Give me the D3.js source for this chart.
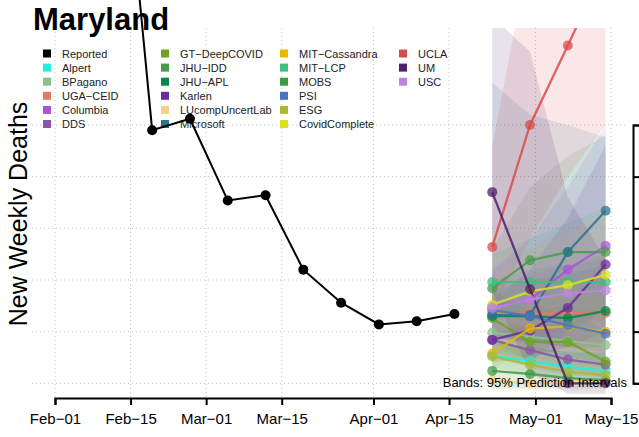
<!DOCTYPE html>
<html><head><meta charset="utf-8">
<script src="https://cdn.jsdelivr.net/npm/d3@7"></script>
<style>body{margin:0;background:#fff}svg{display:block}text{font-family:"Liberation Sans",Arial,Helvetica,sans-serif}</style>
</head><body><svg id="c" width="639" height="437"></svg>
<script>
const reportedDates = ["2021-02-12","2021-02-19","2021-02-26","2021-03-05","2021-03-12","2021-03-19","2021-03-26","2021-04-02","2021-04-09","2021-04-16"];
const reportedValues = [627, 245, 256, 177, 182, 110, 78, 57, 60, 67];
const forecastDates = ["2021-04-23","2021-04-30","2021-05-07","2021-05-14"];
const models = ["Alpert","BPagano","UGA\u2212CEID","Columbia","DDS","GT\u2212DeepCOVID","JHU\u2212IDD","JHU\u2212APL","Karlen","LUcompUncertLab","Microsoft","MIT\u2212Cassandra","MIT\u2212LCP","MOBS","PSI","ESG","CovidComplete","UCLA","UM","USC"];
const modelColors = ["#1EEFDF","#8FBF8F","#E07B5F","#A855D8","#8B55A8","#6BA51F","#4A9A4E","#00874A","#6A2E9A","#F5D08A","#2A7390","#E8B800","#3DBE7A","#3E9A4A","#4A76BF","#AAB834","#DDE020","#D94B4B","#4E1F6A","#C084E0"];
const forecastMedian = [
  [27, 21, 16, 12],
  [49, 45, 41, 37],
  [68, 68, 68, 68],
  [74, 81, 110, 133],
  [42, 32, 23, 18],
  [63, 40, 40, 21],
  [92, 119, 127, 127],
  [65, 65, 63, 70],
  [42, 51, 73, 115],
  [3, 0, 2, 2],
  [66, 66, 127, 167],
  [29, 53, 55, 50],
  [98, 98, 98, 98],
  [12, 9, 5, 3],
  [71, 65, 56, 48],
  [26, 18, 11, 8],
  [76, 89, 95, 105],
  [132, 250, 327, 405],
  [185, 91, 0, 0],
  [73, 81, 87, 90]
];
const forecastLower = [
  [15, 10, 5, 3],
  [30, 25, 20, 15],
  [45, 40, 35, 30],
  [45, 40, 55, 60],
  [25, 15, 8, 5],
  [40, 20, 15, 5],
  [60, 70, 65, 60],
  [45, 40, 35, 35],
  [20, 25, 35, 50],
  [-8, -8, -8, -8],
  [30, 20, 50, 70],
  [15, 30, 30, 25],
  [70, 60, 50, 45],
  [-5, -5, -5, -5],
  [45, 35, 25, 20],
  [15, 8, 3, 0],
  [50, 55, 55, 60],
  [70, 140, 200, 250],
  [90, 10, -10, -10],
  [45, 45, 45, 45]
];
const forecastUpper = [
  [40, 35, 30, 28],
  [70, 70, 70, 70],
  [95, 105, 115, 125],
  [110, 140, 190, 250],
  [60, 55, 50, 45],
  [90, 70, 75, 50],
  [130, 190, 220, 240],
  [90, 100, 105, 115],
  [80, 110, 160, 230],
  [30, 25, 25, 25],
  [291, 260, 250, 238],
  [45, 80, 90, 90],
  [125, 140, 155, 170],
  [40, 35, 30, 30],
  [100, 110, 115, 120],
  [40, 35, 30, 25],
  [100, 130, 145, 165],
  [230, 420, 560, 720],
  [355, 321, 180, 120],
  [110, 130, 150, 160]
];
const xTickDates = ["2021-02-01","2021-02-15","2021-03-01","2021-03-15","2021-04-01","2021-04-15","2021-05-01","2021-05-15"];
const xTickLabels = ["Feb\u221201","Feb\u221215","Mar\u221201","Mar\u221215","Apr\u221201","Apr\u221215","May\u221201","May\u221215"];
const yTicks = [0, 50, 100, 150, 200, 250];
const legendNames = ["Reported"].concat(models);
const legendColors = ["#000000"].concat(modelColors);

const svg = d3.select("#c");
const W = 639, H = 437;
const parse = d3.utcParse("%Y-%m-%d");
const x = d3.scaleUtc().domain([parse("2021-02-01"), parse("2021-05-15")]).range([55, 611]);
const y = d3.scaleLinear().domain([0, 250]).range([383.3, 125]);

svg.append("rect").attr("width", W).attr("height", H).attr("fill", "#fff");
const defs = svg.append("defs");
defs.append("clipPath").attr("id", "plotclip").append("rect").attr("x", 32).attr("y", 28).attr("width", 596).attr("height", 372);

// grid
const grid = svg.append("g").attr("stroke", "#c4c4c4").attr("stroke-dasharray", "1,3").attr("stroke-width", 1);
grid.selectAll("line.h").data(yTicks).join("line").attr("class", "h")
  .attr("x1", 32).attr("x2", 628).attr("y1", d => y(d)).attr("y2", d => y(d));
grid.selectAll("line.v").data(xTickDates).join("line").attr("class", "v")
  .attr("x1", d => x(parse(d))).attr("x2", d => x(parse(d))).attr("y1", 28).attr("y2", 397);

// legend
const leg = svg.append("g");
legendNames.forEach((n, i) => {
  const col = Math.floor(i / 6), row = i % 6;
  const sx = [43, 161, 280, 399][col], tx = [62, 180, 299, 418][col];
  const cy = 53.5 + row * 14.1;
  leg.append("rect").attr("x", sx).attr("y", cy - 4).attr("width", 8).attr("height", 8).attr("fill", legendColors[i]);
  leg.append("text").attr("x", tx).attr("y", cy + 4).attr("font-size", 11).attr("fill", "#222").text(n);
});

// bands
const fd = forecastDates.map(parse);
const bands = svg.append("g").attr("clip-path", "url(#plotclip)");
const area = d3.area().x((d, i) => x(fd[i])).y0(d => y(d[0])).y1(d => y(d[1]));
models.forEach((m, k) => {
  const pts = forecastLower[k].map((lo, i) => [lo, forecastUpper[k][i]]);
  bands.append("path").attr("d", area(pts)).attr("fill", modelColors[k]).attr("fill-opacity", 0.13);
});

// forecast lines
const fl = svg.append("g").attr("clip-path", "url(#plotclip)");
const line = d3.line().x((d, i) => x(fd[i])).y(d => y(d));
models.forEach((m, k) => {
  fl.append("path").attr("d", line(forecastMedian[k])).attr("fill", "none")
    .attr("stroke", modelColors[k]).attr("stroke-width", 2.3).attr("stroke-opacity", 0.85);
  fl.selectAll(null).data(forecastMedian[k]).join("circle")
    .attr("cx", (d, i) => x(fd[i])).attr("cy", d => y(d)).attr("r", 5)
    .attr("fill", modelColors[k]).attr("fill-opacity", 0.75);
});

// reported
const rd = reportedDates.map(parse);
svg.append("path").attr("d", d3.line().x((d, i) => x(rd[i])).y(d => y(d))(reportedValues))
  .attr("fill", "none").attr("stroke", "#000").attr("stroke-width", 2);
svg.selectAll("circle.rep").data(reportedValues).join("circle").attr("class", "rep")
  .attr("cx", (d, i) => x(rd[i])).attr("cy", d => y(d)).attr("r", 5).attr("fill", "#000");

// x axis
const xAxis = d3.axisBottom(x).tickValues(xTickDates.map(parse)).tickFormat((d, i) => xTickLabels[i]).tickSize(7).tickPadding(8);
const gx = svg.append("g").attr("transform", "translate(0,398)").call(xAxis);
gx.select(".domain").attr("stroke-width", 2);
gx.selectAll(".tick line").attr("stroke-width", 2);
gx.selectAll("text").attr("font-size", 15).attr("fill", "#000").attr("font-family", "'Liberation Sans',Arial,sans-serif");

// right axis (its labels fall outside the picture in the reference, so none are drawn)
const yAxis = d3.axisRight(y).tickValues(yTicks).tickSize(7).tickFormat(() => "");
const gy = svg.append("g").attr("transform", "translate(633,0)").call(yAxis);
gy.select(".domain").attr("stroke-width", 2);
gy.selectAll(".tick line").attr("stroke-width", 2);
gy.selectAll("text").remove();

// texts
svg.append("text").attr("x", 33).attr("y", 30).attr("font-size", 31).attr("font-weight", "bold").attr("fill", "#000").text("Maryland");
svg.append("text").attr("transform", "translate(27,214) rotate(-90)").attr("text-anchor", "middle").attr("font-size", 25).attr("fill", "#000").text("New Weekly Deaths");
svg.append("text").attr("x", 627).attr("y", 387).attr("text-anchor", "end").attr("font-size", 13).attr("fill", "#000").text("Bands: 95% Prediction Intervals");
</script></body></html>
